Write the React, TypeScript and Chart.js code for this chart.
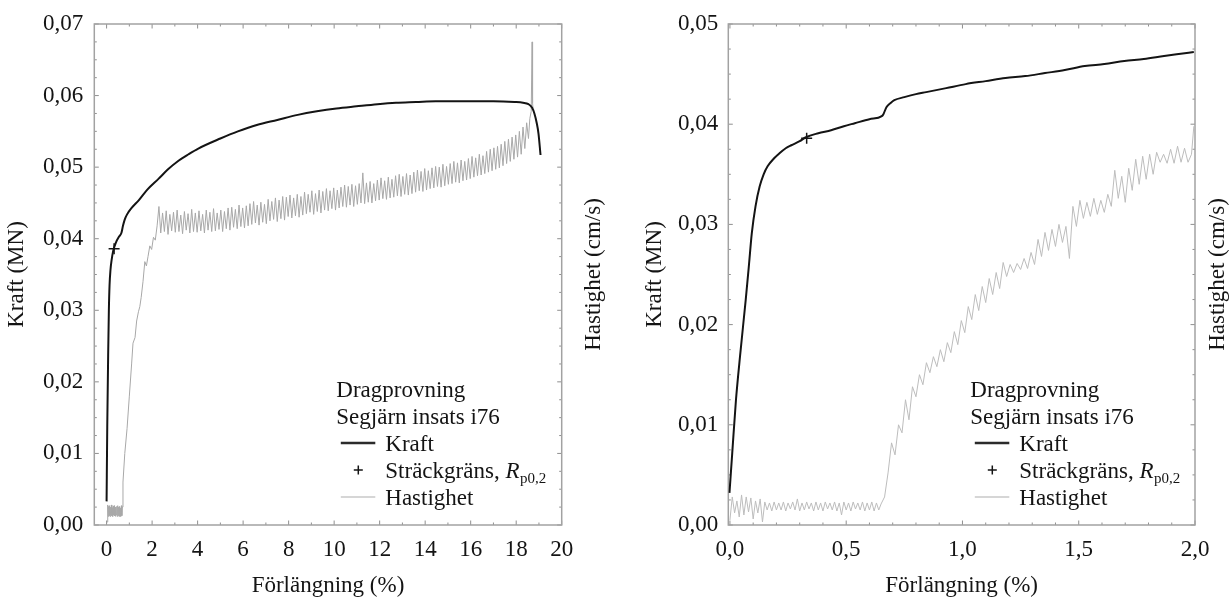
import React, { useEffect, useRef } from 'react';
import { Chart, registerables } from 'chart.js';

Chart.register(...registerables);

const FONT = "'Liberation Serif', 'Times New Roman', serif";
const INK = '#141414';

// ---------------- Left panel (0–20 %) ----------------
const leftXTicks = [0, 2, 4, 6, 8, 10, 12, 14, 16, 18, 20];
const leftXLabels = ['0', '2', '4', '6', '8', '10', '12', '14', '16', '18', '20'];
const leftXMinor = [1, 3, 5, 7, 9, 11, 13, 15, 17, 19];
const leftYTicks = [0, 0.01, 0.02, 0.03, 0.04, 0.05, 0.06, 0.07];
const leftYLabels = ['0,00', '0,01', '0,02', '0,03', '0,04', '0,05', '0,06', '0,07'];
const leftYMinor = [0.0025, 0.005, 0.0075, 0.0125, 0.015, 0.0175, 0.0225, 0.025, 0.0275, 0.0325, 0.035, 0.0375, 0.0425, 0.045, 0.0475, 0.0525, 0.055, 0.0575, 0.0625, 0.065, 0.0675];

const leftForceX = [0.00, 0.03, 0.07, 0.10, 0.13, 0.17, 0.22, 0.29, 0.40, 0.55, 0.65, 0.72, 0.80, 0.90, 1.10, 1.42, 1.80, 2.29, 2.70, 3.16, 3.60, 4.03, 5.00, 5.77, 6.60, 7.50, 8.40, 9.24, 10.10, 10.98, 11.90, 12.72, 13.60, 14.46, 15.30, 16.20, 17.00, 17.93, 18.30, 18.54, 18.70, 18.80, 18.90, 18.98, 19.07];
const leftForceY = [0.0033, 0.0140, 0.0240, 0.0300, 0.0335, 0.0356, 0.0370, 0.0383, 0.0394, 0.0403, 0.0408, 0.0418, 0.0427, 0.0434, 0.0443, 0.0454, 0.0469, 0.0484, 0.0497, 0.0509, 0.0518, 0.0526, 0.0540, 0.0550, 0.0559, 0.0566, 0.0573, 0.0578, 0.0582, 0.0585, 0.0588, 0.0590, 0.0591, 0.0592, 0.0592, 0.0592, 0.0592, 0.0591, 0.0590, 0.0588, 0.0583, 0.0575, 0.0562, 0.0547, 0.0517];

const leftSpeedX = [
  0.03, 0.05, 0.07, 0.09, 0.11, 0.13, 0.15, 0.17, 0.19, 0.21, 0.23, 0.25, 0.27, 0.29, 0.31, 0.33, 0.35,
  0.37, 0.39, 0.41, 0.43, 0.45, 0.47, 0.49, 0.51, 0.53, 0.55, 0.57, 0.59, 0.61, 0.63, 0.65, 0.67, 0.69,
  0.72, 0.80, 0.90, 1.00, 1.10, 1.16, 1.25, 1.32, 1.40, 1.46, 1.52, 1.60, 1.68, 1.75, 1.82, 1.90, 1.98,
  2.06, 2.14, 2.22,
  2.30, 2.38, 2.46, 2.54, 2.62, 2.70, 2.78, 2.86, 2.94, 3.02,
  3.10, 3.18, 3.26, 3.34, 3.42, 3.50, 3.58, 3.66, 3.74, 3.82,
  3.90, 3.98, 4.06, 4.14, 4.22, 4.30, 4.38, 4.46, 4.54, 4.62,
  4.70, 4.78, 4.86, 4.94, 5.02, 5.10, 5.18, 5.26, 5.34, 5.42,
  5.50, 5.58, 5.66, 5.74, 5.82, 5.90, 5.98, 6.06, 6.14, 6.22,
  6.30, 6.38, 6.46, 6.54, 6.62, 6.70, 6.78, 6.86, 6.94, 7.02,
  7.10, 7.18, 7.26, 7.34, 7.42, 7.50, 7.58, 7.66, 7.74, 7.82,
  7.90, 7.98, 8.06, 8.14, 8.22, 8.30, 8.38, 8.46, 8.54, 8.62,
  8.70, 8.78, 8.86, 8.94, 9.02, 9.10, 9.18, 9.26, 9.34, 9.42,
  9.50, 9.58, 9.66, 9.74, 9.82, 9.90, 9.98, 10.06, 10.14, 10.22,
  10.30, 10.38, 10.46, 10.54, 10.62, 10.70, 10.78, 10.86, 10.94, 11.02,
  11.10, 11.18, 11.26, 11.34, 11.42, 11.50, 11.58, 11.66, 11.74, 11.82,
  11.90, 11.98, 12.06, 12.14, 12.22, 12.30, 12.38, 12.46, 12.54, 12.62,
  12.70, 12.78, 12.86, 12.94, 13.02, 13.10, 13.18, 13.26, 13.34, 13.42,
  13.50, 13.58, 13.66, 13.74, 13.82, 13.90, 13.98, 14.06, 14.14, 14.22,
  14.30, 14.38, 14.46, 14.54, 14.62, 14.70, 14.78, 14.86, 14.94, 15.02,
  15.10, 15.18, 15.26, 15.34, 15.42, 15.50, 15.58, 15.66, 15.74, 15.82,
  15.90, 15.98, 16.06, 16.14, 16.22, 16.30, 16.38, 16.46, 16.54, 16.62,
  16.70, 16.78, 16.86, 16.94, 17.02, 17.10, 17.18, 17.26, 17.34, 17.42,
  17.50, 17.58, 17.66, 17.74, 17.82, 17.90, 17.98, 18.06, 18.14, 18.22,
  18.30, 18.38, 18.46, 18.54, 18.60, 18.66, 18.70, 18.72, 18.74,
];
const leftSpeedY = [
  0.0004, 0.0028, 0.0012, 0.0026, 0.0013, 0.0027, 0.0012, 0.0025, 0.0014, 0.0028, 0.0013, 0.0024, 0.0012, 0.0026, 0.0014, 0.0027, 0.0013,
  0.0025, 0.0012, 0.0024, 0.0014, 0.0026, 0.0012, 0.0027, 0.0013, 0.0025, 0.0012, 0.0026, 0.0014, 0.0024, 0.0012, 0.0027, 0.0013, 0.0025,
  0.0060, 0.0100, 0.0135, 0.0180, 0.0225, 0.0254, 0.0262, 0.0285, 0.0298, 0.0305, 0.0318, 0.0340, 0.0368, 0.0362, 0.0375, 0.0390, 0.0385,
  0.0402, 0.0398, 0.0418,
  0.0445, 0.0408, 0.0436, 0.0410, 0.0439, 0.0406, 0.0434, 0.0411, 0.0437, 0.0409,
  0.0440, 0.0410, 0.0433, 0.0407, 0.0438, 0.0412, 0.0435, 0.0408, 0.0441, 0.0410,
  0.0436, 0.0409, 0.0439, 0.0411, 0.0434, 0.0408, 0.0440, 0.0412, 0.0437, 0.0410,
  0.0442, 0.0411, 0.0436, 0.0413, 0.0440, 0.0410, 0.0438, 0.0414, 0.0443, 0.0412,
  0.0444, 0.0416, 0.0441, 0.0414, 0.0447, 0.0417, 0.0443, 0.0415, 0.0446, 0.0418,
  0.0449, 0.0420, 0.0452, 0.0422, 0.0447, 0.0419, 0.0451, 0.0423, 0.0448, 0.0421,
  0.0455, 0.0425, 0.0452, 0.0427, 0.0457, 0.0424, 0.0454, 0.0428, 0.0459, 0.0426,
  0.0458, 0.0431, 0.0461, 0.0429, 0.0457, 0.0432, 0.0462, 0.0430, 0.0459, 0.0433,
  0.0465, 0.0435, 0.0462, 0.0437, 0.0467, 0.0434, 0.0463, 0.0438, 0.0468, 0.0436,
  0.0466, 0.0440, 0.0470, 0.0439, 0.0467, 0.0442, 0.0471, 0.0440, 0.0468, 0.0443,
  0.0472, 0.0445, 0.0475, 0.0444, 0.0473, 0.0447, 0.0476, 0.0445, 0.0474, 0.0448,
  0.0477, 0.0450, 0.0492, 0.0449, 0.0478, 0.0451, 0.0480, 0.0450, 0.0477, 0.0453,
  0.0482, 0.0454, 0.0485, 0.0456, 0.0481, 0.0455, 0.0486, 0.0457, 0.0483, 0.0458,
  0.0488, 0.0460, 0.0490, 0.0459, 0.0487, 0.0462, 0.0491, 0.0461, 0.0489, 0.0463,
  0.0493, 0.0465, 0.0496, 0.0467, 0.0494, 0.0466, 0.0498, 0.0468, 0.0495, 0.0470,
  0.0499, 0.0471, 0.0501, 0.0473, 0.0500, 0.0472, 0.0504, 0.0474, 0.0501, 0.0476,
  0.0505, 0.0477, 0.0508, 0.0479, 0.0506, 0.0478, 0.0510, 0.0481, 0.0508, 0.0482,
  0.0512, 0.0484, 0.0515, 0.0486, 0.0513, 0.0488, 0.0518, 0.0489, 0.0516, 0.0491,
  0.0522, 0.0493, 0.0525, 0.0495, 0.0527, 0.0497, 0.0529, 0.0499, 0.0532, 0.0502,
  0.0536, 0.0505, 0.0539, 0.0508, 0.0542, 0.0511, 0.0545, 0.0514, 0.0550, 0.0518,
  0.0556, 0.0526, 0.0562, 0.0540, 0.0568, 0.0578, 0.0675, 0.0590, 0.0582,
];

// ---------------- Right panel (0–2 %) ----------------
const rightXTicks = [0, 0.5, 1.0, 1.5, 2.0];
const rightXLabels = ['0,0', '0,5', '1,0', '1,5', '2,0'];
const rightXMinor = [0.1, 0.2, 0.3, 0.4, 0.6, 0.7, 0.8, 0.9, 1.1, 1.2, 1.3, 1.4, 1.6, 1.7, 1.8, 1.9];
const rightYTicks = [0, 0.01, 0.02, 0.03, 0.04, 0.05];
const rightYLabels = ['0,00', '0,01', '0,02', '0,03', '0,04', '0,05'];
const rightYMinor = [0.0025, 0.005, 0.0075, 0.0125, 0.015, 0.0175, 0.0225, 0.025, 0.0275, 0.0325, 0.035, 0.0375, 0.0425, 0.045, 0.0475];

const rightForceX = [-0.002, 0.010, 0.026, 0.045, 0.068, 0.082, 0.094, 0.110, 0.128, 0.145, 0.162, 0.190, 0.213, 0.240, 0.264, 0.300, 0.327, 0.380, 0.435, 0.490, 0.537, 0.600, 0.653, 0.660, 0.673, 0.690, 0.707, 0.750, 0.800, 0.844, 0.930, 1.014, 1.100, 1.185, 1.270, 1.355, 1.440, 1.526, 1.610, 1.696, 1.780, 1.867, 1.930, 1.995];
const rightForceY = [0.0032, 0.0072, 0.0125, 0.0172, 0.0225, 0.0260, 0.0291, 0.0318, 0.0338, 0.0350, 0.0358, 0.0366, 0.0371, 0.0376, 0.0379, 0.0383, 0.0387, 0.0391, 0.0394, 0.0398, 0.0401, 0.0405, 0.0408, 0.0410, 0.0417, 0.0421, 0.0424, 0.0427, 0.0430, 0.0432, 0.0436, 0.0440, 0.0443, 0.0446, 0.0448, 0.0451, 0.0454, 0.0458, 0.0460, 0.0463, 0.0465, 0.0468, 0.0470, 0.0472];

const rightSpeedX = [
  0.00, 0.01, 0.02, 0.03, 0.04, 0.05, 0.06, 0.07, 0.08, 0.09, 0.10, 0.11, 0.12, 0.13, 0.14, 0.15, 0.16,
  0.17, 0.18, 0.19, 0.20, 0.21, 0.22, 0.23, 0.24, 0.25, 0.26, 0.27, 0.28, 0.29, 0.30, 0.31, 0.32, 0.33,
  0.34, 0.35, 0.36, 0.37, 0.38, 0.39, 0.40, 0.41, 0.42, 0.43, 0.44, 0.45, 0.46, 0.47, 0.48, 0.49, 0.50,
  0.51, 0.52, 0.53, 0.54, 0.55, 0.56, 0.57, 0.58, 0.59, 0.60, 0.61, 0.62, 0.63, 0.64, 0.65,
  0.665, 0.680, 0.695, 0.710, 0.725, 0.740, 0.755, 0.770, 0.785, 0.800, 0.815, 0.830, 0.845, 0.860, 0.875,
  0.890, 0.905, 0.920, 0.935, 0.950, 0.965, 0.980, 0.995, 1.010, 1.025, 1.040, 1.055, 1.070, 1.085, 1.100,
  1.115, 1.130, 1.145, 1.160, 1.175, 1.190, 1.205, 1.220, 1.235, 1.250, 1.265, 1.280, 1.295, 1.310, 1.325,
  1.340, 1.355, 1.370, 1.385, 1.400, 1.415, 1.430, 1.445, 1.460, 1.475, 1.490, 1.505, 1.520, 1.535, 1.550,
  1.565, 1.580, 1.595, 1.610, 1.625, 1.640, 1.655, 1.670, 1.685, 1.700, 1.715, 1.730, 1.745, 1.760, 1.775,
  1.790, 1.805, 1.820, 1.835, 1.850, 1.865, 1.880, 1.895, 1.910, 1.925, 1.940, 1.955, 1.970, 1.985, 1.995,
];
const rightSpeedY = [
  0.0005, 0.0028, 0.0012, 0.0024, 0.0008, 0.0030, 0.0010, 0.0028, 0.0013, 0.0027, 0.0006, 0.0024, 0.0012, 0.0026, 0.0003, 0.0023, 0.0015,
  0.0022, 0.0014, 0.0023, 0.0015, 0.0022, 0.0015, 0.0023, 0.0014, 0.0022, 0.0016, 0.0023, 0.0015, 0.0026, 0.0014, 0.0022, 0.0015, 0.0023,
  0.0016, 0.0022, 0.0014, 0.0023, 0.0015, 0.0022, 0.0014, 0.0023, 0.0016, 0.0022, 0.0015, 0.0023, 0.0014, 0.0022, 0.0010, 0.0023, 0.0015,
  0.0022, 0.0014, 0.0023, 0.0016, 0.0022, 0.0015, 0.0023, 0.0014, 0.0022, 0.0015, 0.0023, 0.0014, 0.0022, 0.0015, 0.0021,
  0.0028, 0.0052, 0.0082, 0.0070, 0.0100, 0.0092, 0.0125, 0.0105, 0.0138, 0.0128, 0.0150, 0.0140, 0.0162, 0.0152, 0.0168,
  0.0158, 0.0175, 0.0163, 0.0182, 0.0172, 0.0193, 0.0180, 0.0204, 0.0192, 0.0218, 0.0205, 0.0230, 0.0214, 0.0238, 0.0222,
  0.0246, 0.0230, 0.0252, 0.0236, 0.0262, 0.0248, 0.0260, 0.0252, 0.0261, 0.0255, 0.0266, 0.0256, 0.0272, 0.0260, 0.0285,
  0.0268, 0.0292, 0.0274, 0.0295, 0.0278, 0.0300, 0.0282, 0.0298, 0.0266, 0.0318, 0.0298, 0.0324, 0.0306, 0.0322, 0.0308,
  0.0326, 0.0310, 0.0324, 0.0312, 0.0330, 0.0318, 0.0354, 0.0326, 0.0348, 0.0322, 0.0356, 0.0334, 0.0365, 0.0340, 0.0368,
  0.0345, 0.0370, 0.0350, 0.0372, 0.0362, 0.0370, 0.0361, 0.0375, 0.0361, 0.0378, 0.0362, 0.0376, 0.0362, 0.0370, 0.0398,
];

// yield point (Sträckgräns, Rp0,2)
const yieldX = [0.33];
const yieldY = [0.0386];

type Panel = {
  xMin: number; xMax: number; yMax: number;
  xTicks: number[]; xLabels: string[]; xMinor: number[];
  yTicks: number[]; yLabels: string[]; yMinor: number[];
  forceX: number[]; forceY: number[];
  speedX: number[]; speedY: number[];
  speedColor: string;
  areaLeft: number; areaRight: number; canvasWidth: number;
  yTitlePad: number; rightTitleX: number; yLabelPad: number;
};

const W = 615;
const H = 597;
const TOP = 24;
const BOTTOM = 525;

const panels: Panel[] = [
  {
    xMin: -0.54, xMax: 20, yMax: 0.07,
    xTicks: leftXTicks, xLabels: leftXLabels, xMinor: leftXMinor,
    yTicks: leftYTicks, yLabels: leftYLabels, yMinor: leftYMinor,
    forceX: leftForceX, forceY: leftForceY,
    speedX: leftSpeedX, speedY: leftSpeedY,
    speedColor: '#a8a8a8',
    areaLeft: 94.3, areaRight: 561.7, canvasWidth: W,
    yTitlePad: 5.5, rightTitleX: 594, yLabelPad: 11,
  },
  {
    xMin: -0.007, xMax: 2.0, yMax: 0.05,
    xTicks: rightXTicks, xLabels: rightXLabels, xMinor: rightXMinor,
    yTicks: rightYTicks, yLabels: rightYLabels, yMinor: rightYMinor,
    forceX: rightForceX, forceY: rightForceY,
    speedX: rightSpeedX, speedY: rightSpeedY,
    speedColor: '#bdbdbd',
    areaLeft: 113.3, areaRight: 580, canvasWidth: W,
    yTitlePad: 28.5, rightTitleX: 602.5, yLabelPad: 10,
  },
];

const pts = (xs: number[], ys: number[]) => xs.map((x, i) => ({ x, y: ys[i] }));

const framePlugin = {
  id: 'frame',
  beforeDatasetsDraw(chart: any, _args: any, opts: any) {
    const { ctx, chartArea: a, scales } = chart;
    const xs = scales.x;
    const ys = scales.y;
    ctx.save();
    ctx.strokeStyle = '#8f8f8f';
    ctx.lineWidth = 1;
    const seg = (x1: number, y1: number, x2: number, y2: number) => {
      ctx.beginPath();
      ctx.moveTo(x1, y1);
      ctx.lineTo(x2, y2);
      ctx.stroke();
    };
    const xt = (vals: number[], len: number) => {
      for (const v of vals) {
        const p = xs.getPixelForValue(v);
        seg(p, a.bottom, p, a.bottom - len);
        seg(p, a.top, p, a.top + len);
      }
    };
    const yt = (vals: number[], len: number) => {
      for (const v of vals) {
        const p = ys.getPixelForValue(v);
        seg(a.left, p, a.left + len, p);
        seg(a.right, p, a.right - len, p);
      }
    };
    xt(opts.xMajor, 4.5);
    xt(opts.xMinor, 2.5);
    yt(opts.yMajor, 4.5);
    yt(opts.yMinor, 2.5);
    ctx.strokeStyle = '#a2a2a2';
    ctx.lineWidth = 1.5;
    ctx.strokeRect(a.left, a.top, a.right - a.left, a.bottom - a.top);
    ctx.restore();
  },
};

const textPlugin = {
  id: 'texts',
  afterDraw(chart: any, _args: any, opts: any) {
    const { ctx, chartArea: a } = chart;
    ctx.save();
    ctx.fillStyle = INK;
    ctx.font = `23px ${FONT}`;
    ctx.textBaseline = 'middle';
    ctx.textAlign = 'center';
    // right axis title, reading bottom to top
    ctx.save();
    ctx.translate(opts.rightTitleX, (a.top + a.bottom) / 2);
    ctx.rotate(-Math.PI / 2);
    ctx.fillText('Hastighet (cm/s)', 0, 0);
    ctx.restore();

    // legend block
    ctx.textAlign = 'left';
    ctx.textBaseline = 'alphabetic';
    const L = a.left + 242;
    const T = a.left + 291;
    const b = [a.bottom - 128.5, a.bottom - 101.5, a.bottom - 74.5, a.bottom - 47.5, a.bottom - 20.5];
    ctx.fillText('Dragprovning', L, b[0]);
    ctx.fillText('Segjärn insats i76', L, b[1]);
    // Kraft
    ctx.strokeStyle = '#2b2b2b';
    ctx.lineWidth = 2.5;
    ctx.beginPath();
    ctx.moveTo(a.left + 246.5, b[2] - 7.5);
    ctx.lineTo(a.left + 281, b[2] - 7.5);
    ctx.stroke();
    ctx.fillText('Kraft', T, b[2]);
    // Sträckgräns
    ctx.lineWidth = 1.5;
    ctx.strokeStyle = INK;
    const cx = a.left + 264;
    const cy = b[3] - 7.5;
    ctx.beginPath();
    ctx.moveTo(cx - 4.5, cy);
    ctx.lineTo(cx + 4.5, cy);
    ctx.moveTo(cx, cy - 4.5);
    ctx.lineTo(cx, cy + 4.5);
    ctx.stroke();
    const s1 = 'Sträckgräns, ';
    ctx.fillText(s1, T, b[3]);
    let x = T + ctx.measureText(s1).width;
    ctx.font = `italic 23px ${FONT}`;
    ctx.fillText('R', x, b[3]);
    x += ctx.measureText('R').width;
    ctx.font = `15px ${FONT}`;
    ctx.fillText('p0,2', x + 0.5, b[3] + 5);
    ctx.font = `23px ${FONT}`;
    // Hastighet
    ctx.strokeStyle = '#c9c9c9';
    ctx.lineWidth = 1.5;
    ctx.beginPath();
    ctx.moveTo(a.left + 246.5, b[4] - 7.5);
    ctx.lineTo(a.left + 281, b[4] - 7.5);
    ctx.stroke();
    ctx.fillText('Hastighet', T, b[4]);
    ctx.restore();
  },
};

function makeConfig(p: Panel): any {
  const tickFont = { family: FONT, size: 23, lineHeight: 1 };
  return {
    type: 'line',
    data: {
      datasets: [
        {
          label: 'Sträckgräns',
          data: pts(yieldX, yieldY),
          showLine: false,
          pointStyle: 'cross',
          pointRadius: 5.5,
          pointBorderWidth: 1.5,
          pointBorderColor: INK,
          borderColor: INK,
          yAxisID: 'y',
          order: 0,
        },
        {
          label: 'Kraft',
          data: pts(p.forceX, p.forceY),
          borderColor: INK,
          borderWidth: 2,
          pointRadius: 0,
          cubicInterpolationMode: 'monotone',
          fill: false,
          yAxisID: 'y',
          order: 1,
        },
        {
          label: 'Hastighet',
          data: pts(p.speedX, p.speedY),
          borderColor: p.speedColor,
          borderWidth: 1,
          pointRadius: 0,
          tension: 0,
          fill: false,
          yAxisID: 'y2',
          order: 2,
        },
      ],
    },
    options: {
      animation: false,
      responsive: false,
      devicePixelRatio: 1,
      events: [],
      layout: { padding: { top: TOP, left: 0, right: p.canvasWidth - p.areaRight, bottom: 0 } },
      plugins: {
        legend: { display: false },
        tooltip: { enabled: false },
        frame: { xMajor: p.xTicks, xMinor: p.xMinor, yMajor: p.yTicks, yMinor: p.yMinor },
        texts: { rightTitleX: p.rightTitleX },
      },
      scales: {
        x: {
          type: 'linear',
          position: 'bottom',
          min: p.xMin,
          max: p.xMax,
          afterBuildTicks: (s: any) => { s.ticks = p.xTicks.map((v) => ({ value: v })); },
          afterFit: (s: any) => { s.height = H - BOTTOM; },
          ticks: {
            font: tickFont,
            color: INK,
            padding: 13,
            autoSkip: false,
            maxRotation: 0,
            callback: (_v: any, i: number) => p.xLabels[i],
          },
          grid: { display: false, drawTicks: false },
          border: { display: false },
          title: {
            display: true,
            text: 'Förlängning (%)',
            font: tickFont,
            color: INK,
            padding: { top: 0, bottom: 0 },
          },
        },
        y: {
          type: 'linear',
          position: 'left',
          min: 0,
          max: p.yMax,
          afterBuildTicks: (s: any) => { s.ticks = p.yTicks.map((v) => ({ value: v })); },
          afterFit: (s: any) => { s.width = p.areaLeft; },
          ticks: {
            font: tickFont,
            color: INK,
            padding: p.yLabelPad,
            autoSkip: false,
            callback: (_v: any, i: number) => p.yLabels[i],
          },
          grid: { display: false, drawTicks: false },
          border: { display: false },
          title: {
            display: true,
            text: 'Kraft (MN)',
            font: tickFont,
            color: INK,
            padding: { top: p.yTitlePad, bottom: 0 },
          },
        },
        y2: {
          type: 'linear',
          position: 'right',
          display: false,
          min: 0,
          max: p.yMax,
        },
      },
    },
    plugins: [framePlugin, textPlugin],
  };
}

function PanelChart({ panel, left }: { panel: Panel; left: number }) {
  const ref = useRef<HTMLCanvasElement | null>(null);
  useEffect(() => {
    if (!ref.current) return;
    const chart = new Chart(ref.current, makeConfig(panel));
    return () => chart.destroy();
  }, [panel]);
  return (
    <canvas
      ref={ref}
      width={panel.canvasWidth}
      height={H}
      style={{ position: 'absolute', left, top: 0, width: panel.canvasWidth, height: H }}
    />
  );
}

export default function App() {
  return (
    <div style={{ position: 'fixed', left: 0, top: 0, width: 1230, height: H, background: '#ffffff', overflow: 'hidden' }}>
      <PanelChart panel={panels[0]} left={0} />
      <PanelChart panel={panels[1]} left={615} />
    </div>
  );
}
